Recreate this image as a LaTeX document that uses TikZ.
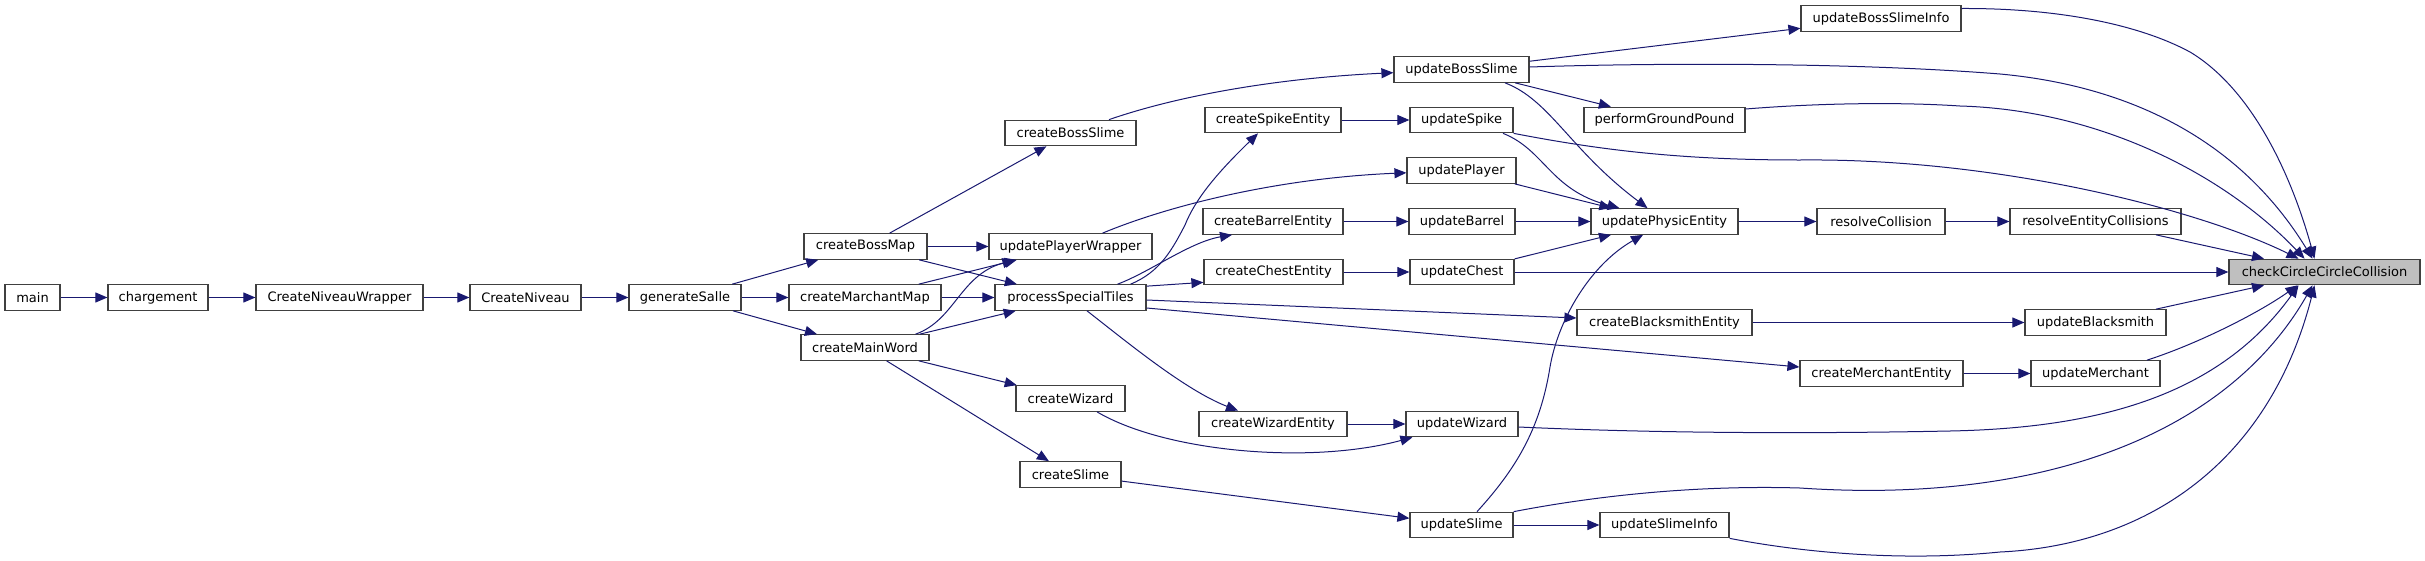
\documentclass[tikz,border=0pt]{standalone}
\usepackage{fontspec}
\setmainfont{DejaVu Sans}
\usetikzlibrary{arrows.meta}
\definecolor{edgec}{HTML}{191970}
\definecolor{boxline}{HTML}{404040}
\definecolor{hl}{HTML}{BFBFBF}
\begin{document}
\begin{tikzpicture}[x=1pt,y=-1pt,
  box/.style={draw=boxline, line width=1.2pt, fill=white, minimum height=25.5pt, inner sep=0pt, font=\fontsize{13}{15}\selectfont},
  edge/.style={draw=edgec, line width=1pt, -{Triangle[length=12pt,width=10pt]}}]
\useasboundingbox (0,0) rectangle (2425,560);
% nodes
\node[box,minimum width=55pt]  (main) at (32.5,297.5) {main};
\node[box,minimum width=100pt] (chg)  at (158,297.5) {chargement};
\node[box,minimum width=167pt] (cnw)  at (339.5,297.5) {CreateNiveauWrapper};
\node[box,minimum width=111pt] (cn)   at (525.5,297.5) {CreateNiveau};
\node[box,minimum width=112pt] (gs)   at (685,297.5) {generateSalle};
\node[box,minimum width=123pt] (cbm)  at (865.5,246.5) {createBossMap};
\node[box,minimum width=152pt] (cmm)  at (865,297.5) {createMarchantMap};
\node[box,minimum width=128pt] (cmw)  at (865,347.5) {createMainWord};
\node[box,minimum width=131pt] (cbs)  at (1070.5,133) {createBossSlime};
\node[box,minimum width=163pt] (upw)  at (1070.5,246.5) {updatePlayerWrapper};
\node[box,minimum width=151pt] (pst)  at (1070.5,297.5) {processSpecialTiles};
\node[box,minimum width=109pt] (cwz)  at (1070.5,398.5) {createWizard};
\node[box,minimum width=101pt] (csl)  at (1070.5,474.5) {createSlime};
\node[box,minimum width=136pt] (cse)  at (1273,120) {createSpikeEntity};
\node[box,minimum width=140pt] (cbe)  at (1273,221.5) {createBarrelEntity};
\node[box,minimum width=139pt] (cce)  at (1273.5,272) {createChestEntity};
\node[box,minimum width=148pt] (cwe)  at (1273,424) {createWizardEntity};
\node[box,minimum width=135pt] (ubs)  at (1461.5,69.5) {updateBossSlime};
\node[box,minimum width=103pt] (usp)  at (1461.5,120) {updateSpike};
\node[box,minimum width=109pt] (upl)  at (1461.5,170.5) {updatePlayer};
\node[box,minimum width=106pt] (uba)  at (1462,221.5) {updateBarrel};
\node[box,minimum width=104pt] (uch)  at (1462,272) {updateChest};
\node[box,minimum width=112pt] (uwz)  at (1462,424) {updateWizard};
\node[box,minimum width=103pt] (usl)  at (1461.5,525) {updateSlime};
\node[box,minimum width=161pt] (pgp)  at (1664.5,120) {performGroundPound};
\node[box,minimum width=147pt] (upe)  at (1664.5,221.5) {updatePhysicEntity};
\node[box,minimum width=175pt] (cbse) at (1664.5,322.5) {createBlacksmithEntity};
\node[box,minimum width=129pt] (usli) at (1664.5,525) {updateSlimeInfo};
\node[box,minimum width=160pt] (ubsi) at (1881,18.5) {updateBossSlimeInfo};
\node[box,minimum width=128pt] (rc)   at (1881,221.5) {resolveCollision};
\node[box,minimum width=163pt] (cme)  at (1881.5,373.5) {createMerchantEntity};
\node[box,minimum width=171pt] (rec)  at (2095.5,221.5) {resolveEntityCollisions};
\node[box,minimum width=141pt] (ubl)  at (2095.5,322.5) {updateBlacksmith};
\node[box,minimum width=129pt] (ume)  at (2095.5,373.5) {updateMerchant};
\node[box,minimum width=191pt,fill=hl] (ccc) at (2324.5,272) {checkCircleCircleCollision};
% edges
\draw[edge] (main) -- (chg);
\draw[edge] (chg) -- (cnw);
\draw[edge] (cnw) -- (cn);
\draw[edge] (cn) -- (gs);
\draw[edge] (gs) -- (cbm);
\draw[edge] (gs) -- (cmm);
\draw[edge] (gs) -- (cmw);
\draw[edge] (cbm) -- (cbs);
\draw[edge] (cbm) -- (upw);
\draw[edge] (cbm) -- (pst);
\draw[edge] (cmm) -- (upw);
\draw[edge] (cmm) -- (pst);
\draw[edge] ([xshift=-14pt]cmw.north east) .. controls (955,320) and (960,275) .. ([xshift=26pt]upw.south west);
\draw[edge] (cmw) -- (pst);
\draw[edge] (cmw) -- (cwz);
\draw[edge] (cmw) -- (csl);
\draw[edge] (cbs) .. controls (1180,95) and (1280,78) .. (ubs);
\draw[edge] (upw) .. controls (1170,205) and (1280,178) .. (upl);
\draw[edge] ([xshift=-16pt]pst.north east) .. controls (1160,272) and (1172,250) .. (1185,225) .. controls (1195,200) and (1215,175) .. ([xshift=-15pt]cse.south);
\draw[edge] ([xshift=-29pt]pst.north east) .. controls (1150,272) and (1190,242) .. ([xshift=-41pt]cbe.south);
\draw[edge] ([yshift=-2pt]pst.north east) -- ([yshift=3pt]cce.south west);
\draw[edge] ([yshift=-2.5pt]pst.east) -- ([yshift=4.5pt]cbse.west);
\draw[edge] ([yshift=-10.5pt]pst.east) -- ([yshift=6.5pt]cme.west);
\draw[edge] ([xshift=16.5pt]pst.south) .. controls (1127,342) and (1185,390) .. ([xshift=-35pt]cwe.north);
\draw[edge] ([xshift=26.5pt]cwz.south) .. controls (1165,452) and (1310,465) .. ([xshift=7pt]uwz.south west);
\draw[edge] (csl) -- (usl);
\draw[edge] (cse) -- (usp);
\draw[edge] (cbe) -- (uba);
\draw[edge] (cce) -- (uch);
\draw[edge] (cwe) -- (uwz);
\draw[edge] (ubs) -- (ubsi);
\draw[edge] ([yshift=2.5pt]ubs.east) .. controls (1650,63) and (1850,62) .. (2000,74) .. controls (2130,86) and (2240,140) .. ([xshift=-12pt]ccc.north);
\draw[edge] (ubs) -- (pgp);
\draw[edge] ([xshift=43.5pt]ubs.south) .. controls (1550,100) and (1570,150) .. ([xshift=-17pt]upe.north);
\draw[edge] ([xshift=41.5pt]usp.south) .. controls (1545,150) and (1550,190) .. ([xshift=-45pt]upe.north);
\draw[edge] (usp.south east) .. controls (1600,150) and (1680,160) .. (1800,160) .. controls (2000,158) and (2200,210) .. ([xshift=-26pt]ccc.north);
\draw[edge] (upl) -- (upe);
\draw[edge] (uba) -- (upe);
\draw[edge] (uch) -- (upe);
\draw[edge] (uch) -- (ccc);
\draw[edge] ([xshift=15.5pt]usl.north) .. controls (1515,470) and (1540,430) .. (1550,367) .. controls (1558,320) and (1590,265) .. ([xshift=-21.5pt]upe.south);
\draw[edge] (usl) -- (usli);
\draw[edge] (usl.north east) .. controls (1600,495) and (1700,485) .. (1800,488) .. controls (2050,505) and (2230,430) .. ([xshift=-12pt]ccc.south);
\draw[edge] ([yshift=-3pt]uwz.east) .. controls (1650,433) and (1800,434) .. (1950,431) .. controls (2100,428) and (2220,395) .. ([xshift=-26pt]ccc.south);
\draw[edge] ([yshift=11pt]pgp.east) .. controls (1820,103) and (1900,102) .. (1960,106) .. controls (2100,110) and (2225,175) .. ([xshift=-20pt]ccc.north);
\draw[edge] (upe) -- (rc);
\draw[edge] (cbse) -- (ubl);
\draw[edge] (cme) -- (ume);
\draw[edge] (usli.south east) .. controls (1800,552) and (1900,562) .. (2000,552) .. controls (2150,545) and (2270,460) .. ([xshift=-10pt]ccc.south);
\draw[edge] ([yshift=10pt]ubsi.east) .. controls (2060,8) and (2140,25) .. (2190,52) .. controls (2250,88) and (2290,170) .. ([xshift=-10pt]ccc.north);
\draw[edge] (rc) -- (rec);
\draw[edge] (rec) -- (ccc);
\draw[edge] (ubl) -- (ccc);
\draw[edge] ([xshift=51.5pt]ume.north) .. controls (2200,343) and (2260,312) .. ([xshift=-27pt]ccc.south);
\end{tikzpicture}
\end{document}
